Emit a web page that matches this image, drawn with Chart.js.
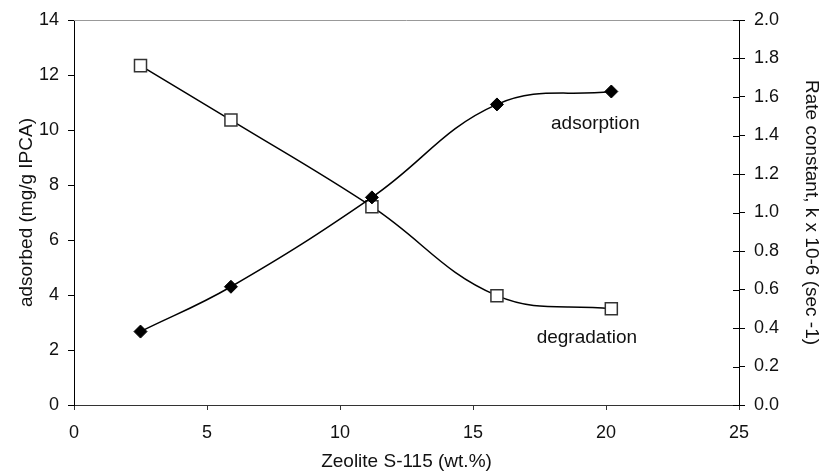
<!DOCTYPE html>
<html>
<head>
<meta charset="utf-8">
<script src="https://cdn.jsdelivr.net/npm/chart.js@4"></script>
<style>
  body { margin: 0; background: #fff; }
  #wrap { width: 821px; height: 473px; }
</style>
</head>
<body>
<div id="wrap"><canvas id="chart" width="821" height="473"></canvas></div>
<script>
// zeolite loading (wt.%)
const zeolite = [2.5, 5.9, 11.2, 15.9, 20.2];
// adsorbed (mg/g IPCA), left axis
const adsorbed = [2.67, 4.3, 7.55, 10.93, 11.4];
// rate constant k x 10-6 (sec-1), right axis
const rateConst = [1.763, 1.48, 1.03, 0.568, 0.5];

const xTicks = [0, 5, 10, 15, 20, 25];

const tickFont = { family: 'Liberation Sans, Arial, sans-serif', size: 18 };
const titleFont = { family: 'Liberation Sans, Arial, sans-serif', size: 19 };

function toPoints(xs, ys) {
  return xs.map((x, i) => ({ x: x, y: ys[i] }));
}

// extras: top border, right axis inner ticks, series labels
const extras = {
  id: 'extras',
  afterDraw(chart) {
    const ctx = chart.ctx;
    const a = chart.chartArea;
    const x = chart.scales.x;
    const y = chart.scales.y;
    const y2 = chart.scales.y2;
    ctx.save();
    ctx.strokeStyle = '#999';
    ctx.lineWidth = 1;
    ctx.beginPath();
    ctx.moveTo(a.left, a.top + 0.5);
    ctx.lineTo(a.right, a.top + 0.5);
    ctx.stroke();

    ctx.strokeStyle = '#000';
    ctx.beginPath();
    y2.ticks.forEach(t => {
      const py = Math.round(y2.getPixelForValue(t.value)) + 0.5;
      ctx.moveTo(a.right - 6, py);
      ctx.lineTo(a.right, py);
    });
    ctx.stroke();

    ctx.fillStyle = '#111';
    ctx.font = '19px Liberation Sans, Arial, sans-serif';
    ctx.textAlign = 'center';
    ctx.textBaseline = 'middle';
    ctx.fillText('adsorption', x.getPixelForValue(19.6), y.getPixelForValue(10.22));
    ctx.fillText('degradation', x.getPixelForValue(19.28), y.getPixelForValue(2.44));
    ctx.restore();
  }
};

new Chart(document.getElementById('chart'), {
  type: 'line',
  data: {
    datasets: [
      {
        label: 'adsorption',
        data: toPoints(zeolite, adsorbed),
        yAxisID: 'y',
        borderColor: '#000',
        borderWidth: 1.5,
        backgroundColor: '#000',
        pointStyle: 'rectRot',
        pointRadius: 6.5,
        pointBorderWidth: 1,
        tension: 0.4
      },
      {
        label: 'degradation',
        data: toPoints(zeolite, rateConst),
        yAxisID: 'y2',
        borderColor: '#000',
        borderWidth: 1.5,
        backgroundColor: '#fff',
        pointBorderColor: '#333',
        pointStyle: 'rect',
        pointRadius: 8.5,
        pointBorderWidth: 1.5,
        tension: 0.4
      }
    ]
  },
  options: {
    responsive: false,
    animation: false,
    layout: { padding: { top: 20, left: 0, right: 0, bottom: 0 } },
    plugins: { legend: { display: false }, tooltip: { enabled: false } },
    scales: {
      x: {
        type: 'linear',
        min: 0,
        max: 25,
        afterBuildTicks: s => { s.ticks = xTicks.map(v => ({ value: v })); },
        afterFit: s => { s.height = 68; },
        border: { color: '#333', width: 1 },
        grid: { drawOnChartArea: false, drawTicks: true, tickLength: 5, color: '#333' },
        ticks: { color: '#111', font: tickFont, padding: 12, maxRotation: 0 },
        title: { display: true, text: 'Zeolite S-115 (wt.%)', color: '#111', font: titleFont, padding: { top: 0, bottom: 0 } }
      },
      y: {
        position: 'left',
        min: 0,
        max: 14,
        afterFit: s => { s.width = 74; },
        border: { color: '#000', width: 1 },
        grid: { drawOnChartArea: false, drawTicks: true, tickLength: 6, color: '#000' },
        ticks: { stepSize: 2, color: '#111', font: tickFont, padding: 9 },
        title: { display: true, text: 'adsorbed (mg/g IPCA)', color: '#111', font: titleFont, padding: { top: 15, bottom: 0 } }
      },
      y2: {
        position: 'right',
        min: 0,
        max: 2,
        afterFit: s => { s.width = 82; },
        border: { color: '#000', width: 1 },
        grid: { drawOnChartArea: false, drawTicks: true, tickLength: 6, color: '#000' },
        ticks: { stepSize: 0.2, color: '#111', font: tickFont, padding: 9, callback: v => v.toFixed(1) },
        title: { display: true, text: 'Rate constant, k x 10-6 (sec -1)', color: '#111', font: titleFont, padding: { top: -2, bottom: 0 } }
      }
    }
  },
  plugins: [extras]
});
</script>
</body>
</html>
